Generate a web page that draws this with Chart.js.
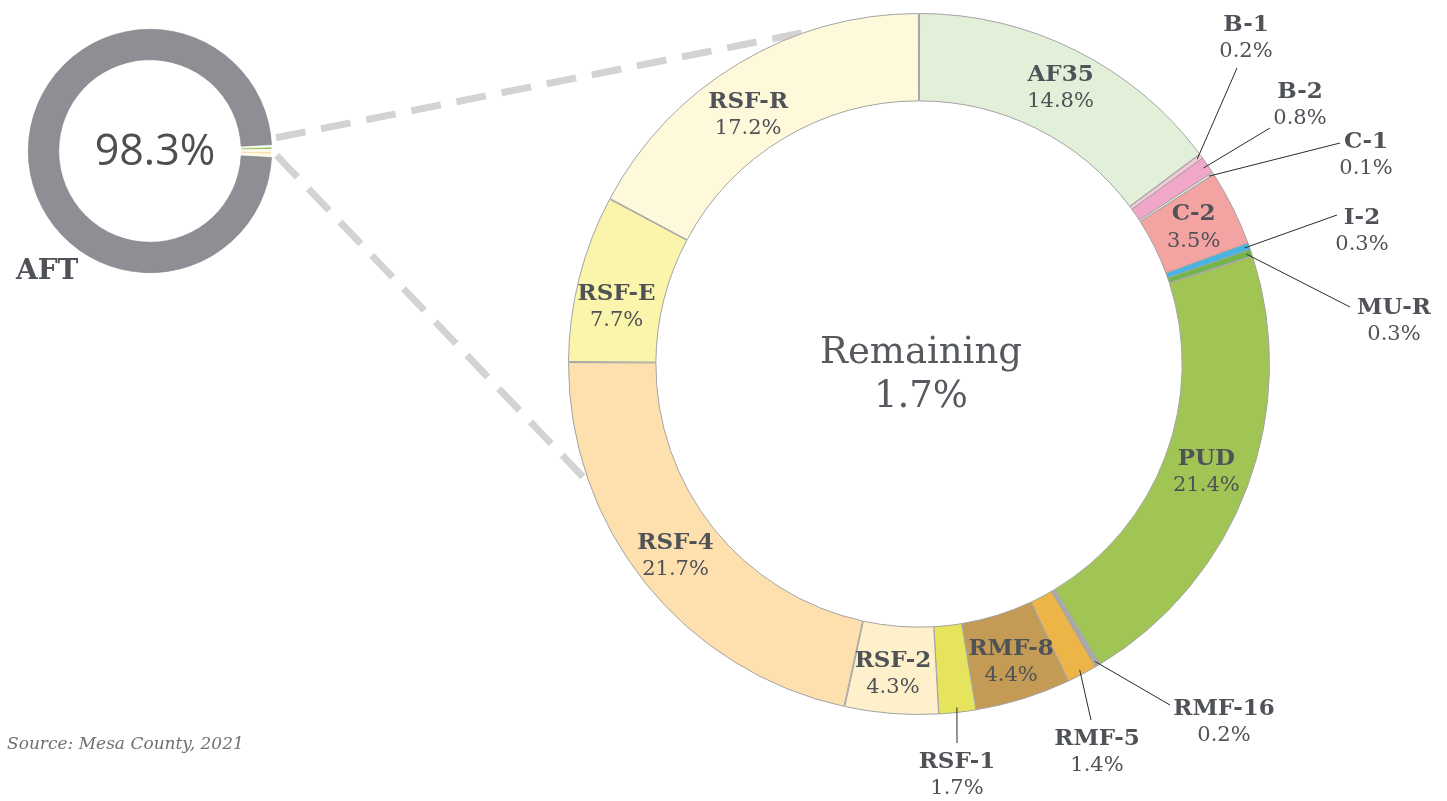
<!DOCTYPE html>
<html>
<head>
<meta charset="utf-8">
<script src="https://cdn.jsdelivr.net/npm/chart.js@4/dist/chart.umd.min.js"></script>
<style>
  html, body { margin: 0; padding: 0; background: #fff; }
  #wrap { position: relative; width: 1447px; height: 801px; }
  #wrap canvas { position: absolute; left: 0; top: 0; }
</style>
</head>
<body>
<div id="wrap">
  <canvas id="mainChart" width="1447" height="801"></canvas>
  <canvas id="aftChart" width="1447" height="801"></canvas>
</div>
<script>
// --- Data ---
let zones = ['AF35', 'B-1', 'B-2', 'C-1', 'C-2', 'I-2', 'MU-R', 'PUD', 'RMF-16', 'RMF-5', 'RMF-8', 'RSF-1', 'RSF-2', 'RSF-4', 'RSF-E', 'RSF-R'];
let zoneShares = [14.8, 0.2, 0.8, 0.1, 3.5, 0.3, 0.3, 21.4, 0.2, 1.4, 4.4, 1.7, 4.3, 21.7, 7.7, 17.2];
let zoneColors = ['#e2efd9', '#f6c9d9', '#f1a7c9', '#eeecd8', '#f4a3a3', '#45b5e6', '#72b548', '#a1c554',
                  '#a9a9a9', '#edb547', '#c39b55', '#e6e45c', '#fff0cc', '#fde0ae', '#fbf4ab', '#fef9da'];
let aftShare = 98.3;
let remainingShare = 1.7;

let textColor = '#4f5257';
let nameFont = 'bold 23px "DejaVu Serif"';
let pctFont = '21px "DejaVu Serif"';

// labels drawn inside the ring (optional nudge)
let insideLabels = {
    'AF35': [4, -2], 'C-2': [0, 0], 'PUD': [0, 0], 'RMF-8': [1, 5],
    'RSF-2': [-2, 4], 'RSF-4': [-4, 0], 'RSF-E': [-5, 18], 'RSF-R': [-13, 14]
};
// labels drawn outside: text center x, name y, line end x, line end y
let outsideLabels = {
    'B-1':    [1246, 25, 1237, 68],
    'B-2':    [1300, 92, 1270, 128],
    'C-1':    [1366, 142, 1340, 143],
    'I-2':    [1362, 218, 1337, 215],
    'MU-R':   [1394, 308, 1350, 307],
    'RMF-16': [1224, 709, 1170, 705],
    'RMF-5':  [1097, 739, 1091, 720],
    'RSF-1':  [957, 762, 957, 743]
};

function pointAt(cx, cy, r, angle) {
    return [cx + r * Math.cos(angle), cy + r * Math.sin(angle)];
}

// --- Small AFT doughnut ---
let aftData = zoneShares.map(v => v * remainingShare / 100).concat([aftShare]);
let aftColors = zoneColors.concat(['#8e8f94']);
let aftBorders = zoneColors.map(() => '#ffffff').concat(['#7f8085']);

let aftLabels = {
    id: 'aftLabels',
    afterDraw(chart) {
        let ctx = chart.ctx;
        let arc = chart.getDatasetMeta(0).data[0];
        ctx.save();
        ctx.fillStyle = '#4d4f53';
        ctx.font = '43px "Open Sans"';
        ctx.textAlign = 'center';
        ctx.textBaseline = 'middle';
        ctx.fillText(aftShare + '%', arc.x + 5, arc.y + 2);
        ctx.fillStyle = textColor;
        ctx.font = 'bold 28px "DejaVu Serif"';
        ctx.textAlign = 'left';
        ctx.fillText('AFT', 16, 272);
        ctx.restore();
    }
};

let aftChart = new Chart(document.getElementById('aftChart'), {
    type: 'doughnut',
    data: {
        labels: zones.concat(['AFT']),
        datasets: [{
            data: aftData,
            backgroundColor: aftColors,
            borderColor: aftBorders,
            borderWidth: 0.6
        }]
    },
    options: {
        responsive: false,
        animation: false,
        cutout: '75%',
        rotation: 90 - remainingShare * 3.6 / 2,
        layout: { padding: { left: 28, top: 29, right: 1447 - 28 - 244, bottom: 801 - 29 - 244 } },
        plugins: { legend: { display: false }, tooltip: { enabled: false } }
    },
    plugins: [aftLabels]
});

// --- Main doughnut ---
let mainLabels = {
    id: 'mainLabels',
    beforeDatasetsDraw(chart) {
        // dashed connectors from the small ring to the big ring
        let ctx = chart.ctx;
        let big = chart.getDatasetMeta(0).data[0];
        let small = aftChart.getDatasetMeta(0).data[0];
        let links = [[-6, 342.7], [2, 249.6]];
        ctx.save();
        ctx.strokeStyle = '#d3d3d3';
        ctx.lineWidth = 7;
        ctx.setLineDash([30, 16]);
        links.forEach(function (l) {
            let a = pointAt(small.x, small.y, small.outerRadius + 5, l[0] * Math.PI / 180);
            let b = pointAt(big.x, big.y, big.outerRadius, (l[1] - 90) * Math.PI / 180);
            ctx.beginPath();
            ctx.moveTo(a[0], a[1]);
            ctx.lineTo(b[0], b[1]);
            ctx.stroke();
        });
        ctx.restore();
    },
    afterDraw(chart) {
        let ctx = chart.ctx;
        let arcs = chart.getDatasetMeta(0).data;
        let cx = arcs[0].x, cy = arcs[0].y;
        ctx.save();
        ctx.textAlign = 'center';
        ctx.textBaseline = 'middle';

        // center text
        ctx.fillStyle = '#56595e';
        ctx.font = '37px "DejaVu Serif"';
        ctx.fillText('Remaining', cx + 2, cy - 11);
        ctx.fillText(remainingShare + '%', cx + 2, cy + 33);

        zones.forEach(function (name, i) {
            let arc = arcs[i];
            let pct = zoneShares[i].toFixed(1) + '%';
            ctx.fillStyle = textColor;
            if (insideLabels[name]) {
                let p = arc.getCenterPoint();
                let n = insideLabels[name];
                ctx.font = nameFont;
                ctx.fillText(name, p.x + n[0], p.y + n[1] - 13);
                ctx.font = pctFont;
                ctx.fillText(pct, p.x + n[0], p.y + n[1] + 14);
            } else if (outsideLabels[name]) {
                let o = outsideLabels[name];
                let mid = (arc.startAngle + arc.endAngle) / 2;
                let s = pointAt(arc.x, arc.y, arc.outerRadius - 4, mid);
                ctx.strokeStyle = '#2b2b2b';
                ctx.lineWidth = 1;
                ctx.beginPath();
                ctx.moveTo(s[0], s[1]);
                ctx.lineTo(o[2], o[3]);
                ctx.stroke();
                ctx.font = nameFont;
                ctx.fillText(name, o[0], o[1]);
                ctx.font = pctFont;
                ctx.fillText(pct, o[0], o[1] + 27);
            }
        });

        // source note
        ctx.textAlign = 'left';
        ctx.fillStyle = '#707070';
        ctx.font = 'italic 17px "DejaVu Serif"';
        ctx.fillText('Source: Mesa County, 2021', 7, 745);
        ctx.restore();
    }
};

let mainChart = new Chart(document.getElementById('mainChart'), {
    type: 'doughnut',
    data: {
        labels: zones,
        datasets: [{
            data: zoneShares,
            backgroundColor: zoneColors,
            borderColor: '#a3a3a3',
            borderWidth: 1,
            spacing: 2
        }]
    },
    options: {
        responsive: false,
        animation: false,
        cutout: '75%',
        layout: { padding: { left: 568, top: 13, right: 1447 - 568 - 702, bottom: 801 - 13 - 702 } },
        plugins: { legend: { display: false }, tooltip: { enabled: false } }
    },
    plugins: [mainLabels]
});
</script>
</body>
</html>
